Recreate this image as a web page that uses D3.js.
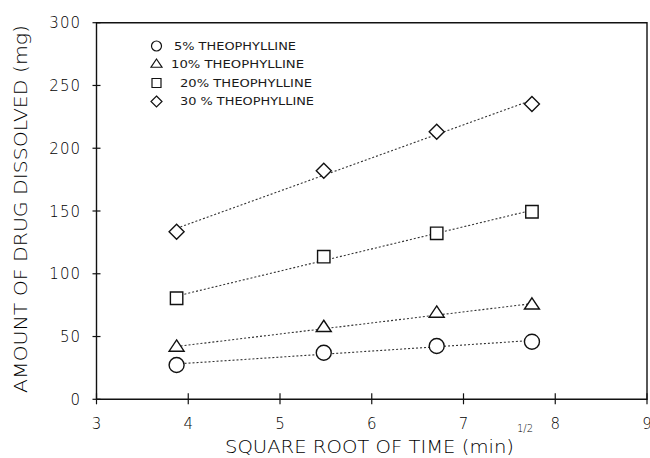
<!DOCTYPE html>
<html>
<head>
<meta charset="utf-8">
<script src="https://cdn.jsdelivr.net/npm/d3@7"></script>
<style>
  body { margin: 0; background: #fff; }
  svg text { font-family: "DejaVu Sans", sans-serif; fill: #000; font-weight: 200; }
  svg text.legend-label { font-weight: 400; fill: #1a1a1a; }
</style>
</head>
<body>
<div id="chart"></div>
<script>
// sqrt(t) for t = 15, 30, 45, 60 min
const timeRoots = [3.873, 5.477, 6.708, 7.746];
const seriesNames = ["5% THEOPHYLLINE", "10% THEOPHYLLINE", "20% THEOPHYLLINE", "30 % THEOPHYLLINE"];
const dissolved5 = [27.3, 37.1, 42.5, 45.9];
const dissolved10 = [41.3, 57.0, 68.4, 74.9];
const dissolved20 = [80.5, 113.6, 132.2, 149.4];
const dissolved30 = [133.5, 182.1, 213.2, 235.2];
const xTicks = [3, 4, 5, 6, 7, 8, 9];
const yTicks = [0, 50, 100, 150, 200, 250, 300];

const series = [
  { name: seriesNames[0], shape: "circle", values: dissolved5 },
  { name: seriesNames[1], shape: "triangle", values: dissolved10 },
  { name: seriesNames[2], shape: "square", values: dissolved20 },
  { name: seriesNames[3], shape: "diamond", values: dissolved30 }
];

const W = 650, H = 458;
const plotL = 96.5, plotR = 647, plotT = 22.7, plotB = 399.3;

const svg = d3.select("#chart").append("svg")
  .attr("width", W).attr("height", H);

const x = d3.scaleLinear().domain([3, 9]).range([plotL, plotR]);
const y = d3.scaleLinear().domain([0, 300]).range([plotB, plotT]);

// marker outline, s = half width
function shapePath(kind, s) {
  if (kind == "circle") {
    return `M${-s},0A${s},${s} 0 1,0 ${s},0A${s},${s} 0 1,0 ${-s},0Z`;
  } else if (kind == "square") {
    return `M${-s},${-s}H${s}V${s}H${-s}Z`;
  } else if (kind == "diamond") {
    return `M0,${-s}L${s},0L0,${s}L${-s},0Z`;
  } else {
    const h = s * 1.5;
    return `M0,${-h * 2 / 3}L${s},${h / 3}L${-s},${h / 3}Z`;
  }
}
const markerSize = { circle: 7.5, triangle: 7.5, square: 6.2, diamond: 7.5 };
const legendSize = { circle: 5, triangle: 5.5, square: 4.5, diamond: 5.5 };

// frame
svg.append("path")
  .attr("d", `M${plotL},${plotT}H${plotR}V${plotB}H${plotL}Z`)
  .attr("fill", "none").attr("stroke", "#111").attr("stroke-width", 1.4);

// x axis ticks + labels
const xAxis = svg.append("g");
xAxis.selectAll("line").data(xTicks).join("line")
  .attr("x1", d => x(d)).attr("x2", d => x(d))
  .attr("y1", plotB - 6).attr("y2", plotB + 5)
  .attr("stroke", "#111").attr("stroke-width", 1.2);
xAxis.selectAll("text").data(xTicks).join("text")
  .attr("x", d => x(d)).attr("y", 428.5)
  .attr("text-anchor", "middle")
  .style("font-size", "15px")
  .text(d => d);

// y axis ticks + labels
const yAxis = svg.append("g");
yAxis.selectAll("line").data(yTicks).join("line")
  .attr("x1", plotL - 4).attr("x2", plotL + 4)
  .attr("y1", d => y(d)).attr("y2", d => y(d))
  .attr("stroke", "#111").attr("stroke-width", 1.2);
yAxis.selectAll("text").data(yTicks).join("text")
  .attr("x", 81).attr("y", d => y(d) + 5.5)
  .attr("text-anchor", "end")
  .style("font-size", "15px")
  .style("letter-spacing", "1px")
  .text(d => d);

// axis titles
svg.append("text")
  .attr("transform", `translate(27,209) rotate(-90)`)
  .attr("text-anchor", "middle")
  .attr("textLength", 368).attr("lengthAdjust", "spacingAndGlyphs")
  .style("font-size", "17px")
  .text("AMOUNT OF DRUG DISSOLVED (mg)");

svg.append("text")
  .attr("x", 225).attr("y", 453)
  .attr("textLength", 289).attr("lengthAdjust", "spacingAndGlyphs")
  .style("font-size", "17px")
  .text("SQUARE ROOT OF TIME (min)");
svg.append("text")
  .attr("x", 517).attr("y", 432)
  .style("font-size", "10px")
  .text("1/2");

// least-squares fit lines
function fit(xs, ys) {
  const mx = d3.mean(xs), my = d3.mean(ys);
  const sxy = d3.sum(xs, (v, i) => (v - mx) * (ys[i] - my));
  const sxx = d3.sum(xs, v => (v - mx) * (v - mx));
  const b = sxy / sxx;
  return v => my + b * (v - mx);
}
const x0 = d3.min(timeRoots), x1 = d3.max(timeRoots);
svg.append("g").selectAll("line").data(series).join("line")
  .attr("x1", x(x0)).attr("x2", x(x1))
  .attr("y1", d => y(fit(timeRoots, d.values)(x0)))
  .attr("y2", d => y(fit(timeRoots, d.values)(x1)))
  .attr("stroke", "#333").attr("stroke-width", 1.1)
  .attr("stroke-dasharray", "2,2");

// markers
series.forEach(s => {
  svg.append("g").selectAll("path").data(s.values).join("path")
    .attr("transform", (d, i) => `translate(${x(timeRoots[i])},${y(d)})`)
    .attr("d", shapePath(s.shape, markerSize[s.shape]))
    .attr("fill", "#fff").attr("stroke", "#111").attr("stroke-width", 1.4);
});

// legend
const legendRowY = [46, 64.5, 83, 101.5];
const legendTextX = [174, 171, 180, 180];
const legendTextLen = [122, 133, 132, 134];
const legend = svg.append("g");
series.forEach((s, i) => {
  legend.append("path")
    .attr("transform", `translate(156.5,${legendRowY[i]})`)
    .attr("d", shapePath(s.shape, legendSize[s.shape]))
    .attr("fill", "#fff").attr("stroke", "#111").attr("stroke-width", 1.2);
  legend.append("text")
    .attr("class", "legend-label")
    .attr("x", legendTextX[i]).attr("y", legendRowY[i] + 3.8)
    .attr("textLength", legendTextLen[i]).attr("lengthAdjust", "spacingAndGlyphs")
    .style("font-size", "10.5px")
    .text(s.name);
});
</script>
</body>
</html>
